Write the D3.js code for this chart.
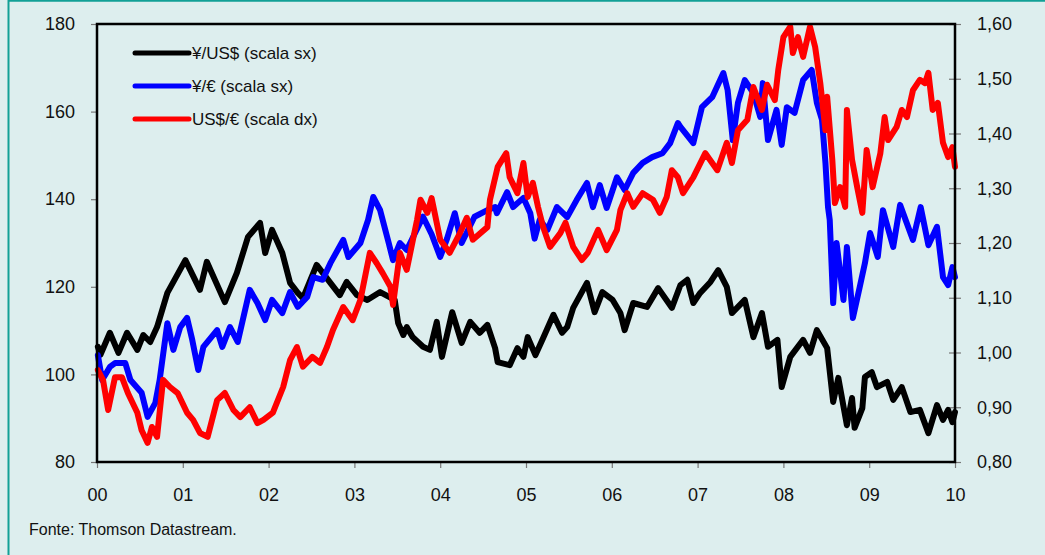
<!DOCTYPE html>
<html>
<head>
<meta charset="utf-8">
<script src="https://cdn.jsdelivr.net/npm/d3@7"></script>
<style>
  body { margin: 0; padding: 0; background: #ddeeee; }
  text { font-family: "Liberation Sans", Arial, sans-serif; fill: #111; }
</style>
</head>
<body>
<div id="chart"></div>
<script>
// x values are decimal years (2000 = 0)
const yearLabels = ["00", "01", "02", "03", "04", "05", "06", "07", "08", "09", "10"];
const leftTicks = [80, 100, 120, 140, 160, 180];
const rightTicks = [0.8, 0.9, 1.0, 1.1, 1.2, 1.3, 1.4, 1.5, 1.6];

// ¥/US$ (scala sx)
const yenDollar = [
  [0.01, 106.3], [0.04, 104.5], [0.15, 109.5], [0.25, 104.9], [0.35, 109.5], [0.47, 105.6],
  [0.54, 109.0], [0.62, 107.4], [0.70, 110.8], [0.82, 118.6], [1.03, 126.1], [1.20, 119.3],
  [1.28, 125.7], [1.49, 116.5], [1.63, 123.2], [1.76, 131.4], [1.90, 134.6], [1.96, 127.7],
  [2.04, 133.0], [2.16, 127.7], [2.25, 120.9], [2.34, 118.6], [2.40, 117.4], [2.56, 125.0],
  [2.72, 120.9], [2.83, 118.1], [2.91, 121.1], [3.03, 118.1], [3.15, 117.0], [3.30, 118.8],
  [3.47, 117.0], [3.51, 111.7], [3.57, 109.0], [3.61, 110.8], [3.68, 108.5], [3.80, 106.3],
  [3.88, 105.6], [3.96, 112.0], [4.02, 104.0], [4.14, 114.2], [4.25, 107.2], [4.35, 112.0],
  [4.46, 109.5], [4.55, 111.3], [4.64, 106.0], [4.67, 102.8], [4.81, 102.1], [4.90, 106.0],
  [4.97, 104.0], [5.02, 108.5], [5.11, 104.4], [5.20, 108.3], [5.32, 113.6], [5.42, 109.5],
  [5.48, 110.8], [5.55, 115.2], [5.71, 120.9], [5.80, 114.2], [5.89, 118.8], [6.01, 117.0],
  [6.10, 114.0], [6.15, 110.1], [6.25, 116.3], [6.41, 115.4], [6.54, 119.7], [6.70, 115.2],
  [6.80, 120.4], [6.88, 121.6], [6.95, 116.3], [7.03, 118.6], [7.15, 121.1], [7.24, 123.8],
  [7.34, 120.0], [7.40, 114.0], [7.55, 117.0], [7.65, 108.5], [7.75, 114.0], [7.82, 106.3],
  [7.93, 107.9], [7.98, 97.1], [8.08, 104.0], [8.23, 107.9], [8.31, 104.9], [8.39, 110.1],
  [8.51, 106.0], [8.58, 93.7], [8.64, 99.2], [8.74, 88.4], [8.80, 94.6], [8.83, 87.8],
  [8.92, 92.3], [8.95, 99.4], [9.03, 100.5], [9.09, 97.1], [9.21, 98.3], [9.28, 94.2],
  [9.38, 97.1], [9.48, 91.4], [9.59, 91.9], [9.69, 86.6], [9.79, 93.0], [9.86, 89.6],
  [9.92, 91.9], [9.97, 89.1], [10.0, 91.4]
];

// ¥/€ (scala sx)
const yenEuro = [
  [0.01, 104.4], [0.06, 98.7], [0.15, 101.7], [0.21, 102.6], [0.33, 102.6], [0.39, 98.7],
  [0.52, 95.8], [0.59, 90.3], [0.68, 93.5], [0.73, 98.7], [0.82, 111.7], [0.89, 105.6],
  [0.97, 110.8], [1.05, 112.9], [1.11, 107.9], [1.18, 101.0], [1.24, 106.3], [1.40, 110.1],
  [1.46, 106.3], [1.55, 110.8], [1.64, 107.4], [1.78, 119.3], [1.87, 116.3], [1.96, 112.4],
  [2.04, 117.0], [2.16, 114.0], [2.25, 118.8], [2.34, 115.4], [2.45, 117.7], [2.52, 122.2],
  [2.63, 121.6], [2.72, 125.4], [2.87, 130.7], [2.93, 126.8], [3.07, 130.0], [3.16, 135.3],
  [3.22, 140.5], [3.30, 137.5], [3.40, 130.0], [3.45, 126.1], [3.53, 130.0], [3.61, 128.4],
  [3.75, 134.0], [3.80, 136.0], [3.90, 132.0], [4.00, 126.8], [4.08, 131.0], [4.17, 136.8],
  [4.25, 130.0], [4.40, 136.0], [4.55, 137.5], [4.64, 138.2], [4.66, 136.8], [4.78, 141.6],
  [4.85, 138.2], [4.97, 140.3], [5.05, 136.8], [5.10, 131.0], [5.16, 135.3], [5.25, 133.0],
  [5.36, 138.2], [5.48, 135.9], [5.59, 139.8], [5.71, 143.7], [5.78, 138.2], [5.86, 143.2],
  [5.94, 138.0], [6.06, 145.0], [6.15, 142.1], [6.25, 146.0], [6.36, 148.3], [6.47, 149.6],
  [6.59, 150.5], [6.68, 152.8], [6.77, 157.4], [6.80, 156.5], [6.95, 152.8], [7.05, 161.0],
  [7.17, 163.3], [7.30, 168.8], [7.35, 164.9], [7.41, 153.5], [7.47, 162.0], [7.55, 167.2],
  [7.65, 164.2], [7.73, 158.8], [7.76, 166.5], [7.82, 153.5], [7.92, 160.4], [7.98, 152.4],
  [8.04, 161.0], [8.13, 159.7], [8.23, 167.2], [8.33, 169.5], [8.39, 162.0], [8.45, 158.1],
  [8.49, 148.3], [8.52, 138.2], [8.54, 135.3], [8.58, 116.3], [8.62, 130.0], [8.70, 117.0],
  [8.74, 129.1], [8.81, 112.9], [8.89, 120.0], [8.95, 125.4], [9.01, 132.3], [9.10, 126.8],
  [9.16, 137.5], [9.28, 129.1], [9.36, 138.7], [9.51, 130.7], [9.60, 138.2], [9.69, 129.5],
  [9.79, 133.7], [9.86, 122.2], [9.92, 120.4], [9.97, 124.5], [10.0, 122.2]
];

// US$/€ (scala dx)
const dollarEuro = [
  [0.01, 0.968], [0.07, 0.950], [0.13, 0.895], [0.21, 0.955], [0.29, 0.955], [0.36, 0.926],
  [0.47, 0.890], [0.52, 0.858], [0.59, 0.835], [0.64, 0.864], [0.70, 0.846], [0.77, 0.950],
  [0.85, 0.937], [0.94, 0.926], [1.05, 0.890], [1.12, 0.877], [1.20, 0.853], [1.29, 0.846],
  [1.40, 0.913], [1.49, 0.926], [1.59, 0.895], [1.67, 0.882], [1.78, 0.900], [1.87, 0.871],
  [1.94, 0.877], [2.05, 0.890], [2.17, 0.937], [2.25, 0.986], [2.33, 1.010], [2.40, 0.974],
  [2.51, 0.992], [2.60, 0.981], [2.68, 1.010], [2.75, 1.041], [2.87, 1.083], [2.98, 1.059],
  [3.07, 1.096], [3.18, 1.182], [3.26, 1.163], [3.33, 1.145], [3.42, 1.120], [3.45, 1.087],
  [3.53, 1.182], [3.61, 1.151], [3.73, 1.242], [3.77, 1.279], [3.85, 1.255], [3.90, 1.282],
  [4.00, 1.206], [4.11, 1.182], [4.23, 1.218], [4.31, 1.246], [4.38, 1.206], [4.55, 1.229],
  [4.58, 1.279], [4.67, 1.339], [4.77, 1.364], [4.81, 1.320], [4.90, 1.291], [4.97, 1.346],
  [5.02, 1.284], [5.08, 1.310], [5.14, 1.266], [5.20, 1.229], [5.28, 1.193], [5.40, 1.218],
  [5.46, 1.237], [5.55, 1.193], [5.65, 1.169], [5.72, 1.182], [5.84, 1.224], [5.94, 1.187],
  [6.06, 1.224], [6.10, 1.260], [6.18, 1.291], [6.25, 1.266], [6.36, 1.291], [6.48, 1.279],
  [6.56, 1.255], [6.64, 1.284], [6.70, 1.333], [6.77, 1.320], [6.83, 1.291], [6.95, 1.320],
  [7.09, 1.364], [7.23, 1.333], [7.34, 1.383], [7.40, 1.346], [7.47, 1.406], [7.58, 1.425],
  [7.65, 1.485], [7.75, 1.443], [7.81, 1.489], [7.90, 1.461], [7.94, 1.516], [8.00, 1.576],
  [8.08, 1.595], [8.11, 1.547], [8.17, 1.576], [8.23, 1.540], [8.31, 1.595], [8.37, 1.558],
  [8.43, 1.492], [8.49, 1.406], [8.51, 1.467], [8.57, 1.352], [8.60, 1.273], [8.66, 1.302],
  [8.72, 1.266], [8.74, 1.443], [8.80, 1.352], [8.86, 1.302], [8.92, 1.255], [8.97, 1.370],
  [9.04, 1.302], [9.13, 1.364], [9.18, 1.430], [9.22, 1.388], [9.32, 1.412], [9.38, 1.443],
  [9.44, 1.430], [9.51, 1.479], [9.59, 1.498], [9.65, 1.492], [9.69, 1.511], [9.74, 1.443],
  [9.80, 1.456], [9.86, 1.383], [9.92, 1.357], [9.97, 1.375], [10.0, 1.339]
];

const legendLabels = ["¥/US$ (scala sx)", "¥/€ (scala sx)", "US$/€ (scala dx)"];
const seriesColors = ["#000000", "#0000ff", "#ff0000"];

let svgWidth = 1045,
  svgHeight = 555,
  margin = { top: 24, right: 90, bottom: 93, left: 97 },
  width = svgWidth - margin.left - margin.right,
  height = svgHeight - margin.top - margin.bottom;

let x = d3.scaleLinear().domain([0, 10]).range([0, width]),
  yLeft = d3.scaleLinear().domain([80, 180]).range([height, 0]),
  yRight = d3.scaleLinear().domain([0.8, 1.6]).range([height, 0]);

const commaFmt = v => d3.format(".2f")(v).replace(".", ",");

let svg = d3
  .select("#chart")
  .append("svg")
  .attr("width", svgWidth)
  .attr("height", svgHeight);

svg
  .append("rect")
  .attr("width", svgWidth)
  .attr("height", svgHeight)
  .attr("fill", "#ddeeee");

// teal frame (top + left edge visible)
svg
  .append("path")
  .attr("d", `M8.5,${svgHeight} L8.5,0.75 L${svgWidth},0.75`)
  .attr("fill", "none")
  .attr("stroke", "#12a096")
  .attr("stroke-width", 2);

let g = svg
  .append("g")
  .attr("transform", "translate(" + margin.left + "," + margin.top + ")");

// axes
let xAxis = d3
  .axisBottom(x)
  .tickValues(d3.range(0, 11))
  .tickSize(6)
  .tickFormat(d => yearLabels[d]);

let yAxisLeft = d3.axisLeft(yLeft).tickValues(leftTicks).tickSize(6);
let yAxisRight = d3
  .axisRight(yRight)
  .tickValues(rightTicks)
  .tickSize(6)
  .tickFormat(commaFmt);

function styleAxis(sel) {
  sel.select(".domain").remove();
  sel.selectAll(".tick line").attr("stroke", "#777").attr("stroke-width", 1.2);
  sel
    .selectAll(".tick text")
    .style("font-family", '"Liberation Sans", Arial, sans-serif')
    .style("font-size", "18px")
    .attr("fill", "#111");
}

g.append("g")
  .attr("transform", "translate(0," + height + ")")
  .call(xAxis)
  .call(styleAxis)
  .call(s => s.selectAll(".tick text").attr("dy", "0").attr("y", 39));

g.append("g")
  .call(yAxisLeft)
  .call(styleAxis)
  .call(s => s.selectAll(".tick text").attr("x", -22));

g.append("g")
  .attr("transform", "translate(" + width + ",0)")
  .call(yAxisRight)
  .call(styleAxis)
  .call(s => s.selectAll(".tick line").attr("x1", -6).attr("x2", 6))
  .call(s => s.selectAll(".tick text").attr("x", 22));

// lines
let lineLeft = d3
  .line()
  .x(d => x(d[0]))
  .y(d => yLeft(d[1]));

let lineRight = d3
  .line()
  .x(d => x(d[0]))
  .y(d => yRight(d[1]));

let series = [
  { data: yenDollar, line: lineLeft },
  { data: yenEuro, line: lineLeft },
  { data: dollarEuro, line: lineRight }
];

g.selectAll(".series")
  .data(series)
  .enter()
  .append("path")
  .attr("class", "series")
  .attr("fill", "none")
  .attr("stroke", (d, i) => seriesColors[i])
  .attr("stroke-width", 6)
  .attr("stroke-linejoin", "round")
  .attr("stroke-linecap", "round")
  .attr("d", d => d.line(d.data));

// plot frame
g.append("rect")
  .attr("width", width)
  .attr("height", height)
  .attr("fill", "none")
  .attr("stroke", "#000")
  .attr("stroke-width", 2.5);

// legend
let legend = g
  .selectAll(".legend")
  .data(legendLabels)
  .enter()
  .append("g")
  .attr("class", "legend")
  .attr("transform", (d, i) => "translate(38," + (29 + i * 33) + ")");

legend
  .append("line")
  .attr("x1", 0)
  .attr("x2", 54)
  .attr("stroke", (d, i) => seriesColors[i])
  .attr("stroke-width", 5)
  .attr("stroke-linecap", "round");

legend
  .append("text")
  .attr("x", 57)
  .attr("dy", "0.35em")
  .style("font-size", "17px")
  .text(d => d);

// source
svg
  .append("text")
  .attr("x", 29)
  .attr("y", 535)
  .style("font-size", "16px")
  .text("Fonte: Thomson Datastream.");
</script>
</body>
</html>
